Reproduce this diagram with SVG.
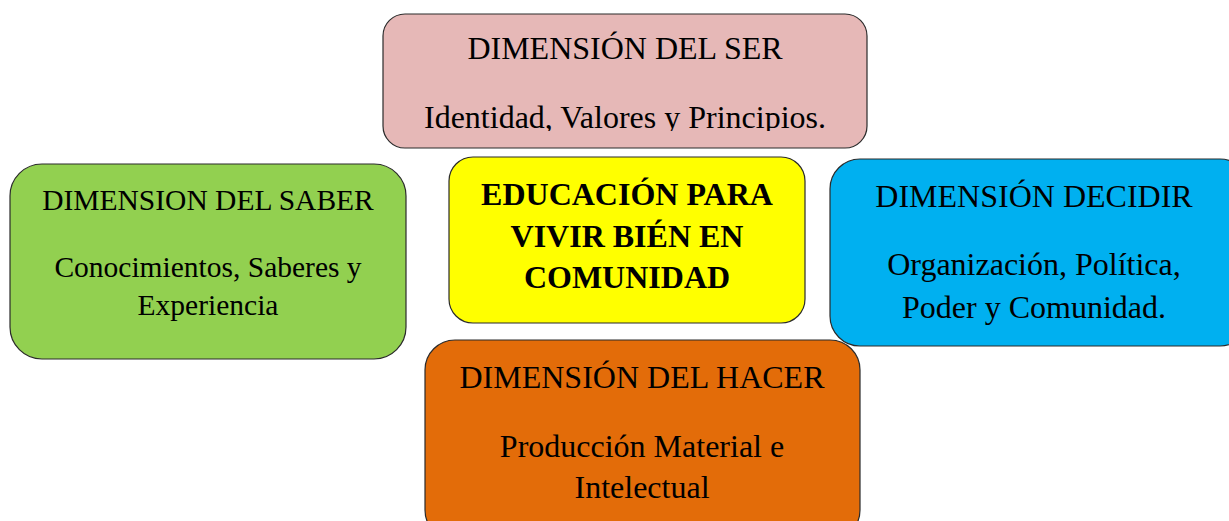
<svg xmlns="http://www.w3.org/2000/svg" width="1229" height="521" viewBox="0 0 1229 521">
<style>
.box{stroke:#2b2b2b;stroke-width:1.2}
.t{font-family:"Liberation Serif","Times New Roman",serif;font-size:32px;fill:#000;text-anchor:middle}
.s{font-size:29.5px}
.b{font-weight:bold}
</style>
<defs>
<clipPath id="serclip"><rect x="383" y="14" width="484" height="117"/></clipPath>
</defs>
<rect width="1229" height="521" fill="#ffffff"/>
<g id="connectors"></g>
<g id="ser">
<rect class="box" x="383" y="14" width="484" height="134" rx="22" fill="#E6B8B7"/>
<text class="t" x="625" y="59">DIMENSIÓN DEL SER</text>
<text class="t" x="625" y="128" clip-path="url(#serclip)">Identidad, Valores y Principios.</text>
</g>
<g id="saber">
<rect class="box" x="10" y="164" width="396" height="195" rx="32" fill="#92D050"/>
<text class="t s" x="208" y="210">DIMENSION DEL SABER</text>
<text class="t s" x="208" y="277">Conocimientos, Saberes y</text>
<text class="t s" x="208" y="315">Experiencia</text>
</g>
<g id="centro">
<rect class="box" x="449" y="157" width="356" height="166" rx="24" fill="#FFFF00"/>
<text class="t b" x="627" y="205">EDUCACIÓN PARA</text>
<text class="t b" x="627" y="247">VIVIR BIÉN EN</text>
<text class="t b" x="627" y="288">COMUNIDAD</text>
</g>
<g id="hacer">
<rect class="box" x="425" y="340" width="435" height="200" rx="30" fill="#E36C09"/>
<text class="t" x="642" y="388">DIMENSIÓN DEL HACER</text>
<text class="t" x="642" y="457">Producción Material e</text>
<text class="t" x="642" y="498">Intelectual</text>
</g>
<g id="decidir">
<rect class="box" x="830" y="159" width="420" height="187" rx="30" fill="#00B0F0"/>
<text class="t" x="1034" y="207">DIMENSIÓN DECIDIR</text>
<text class="t" x="1034" y="275">Organización, Política,</text>
<text class="t" x="1034" y="318">Poder y Comunidad.</text>
</g>
</svg>
